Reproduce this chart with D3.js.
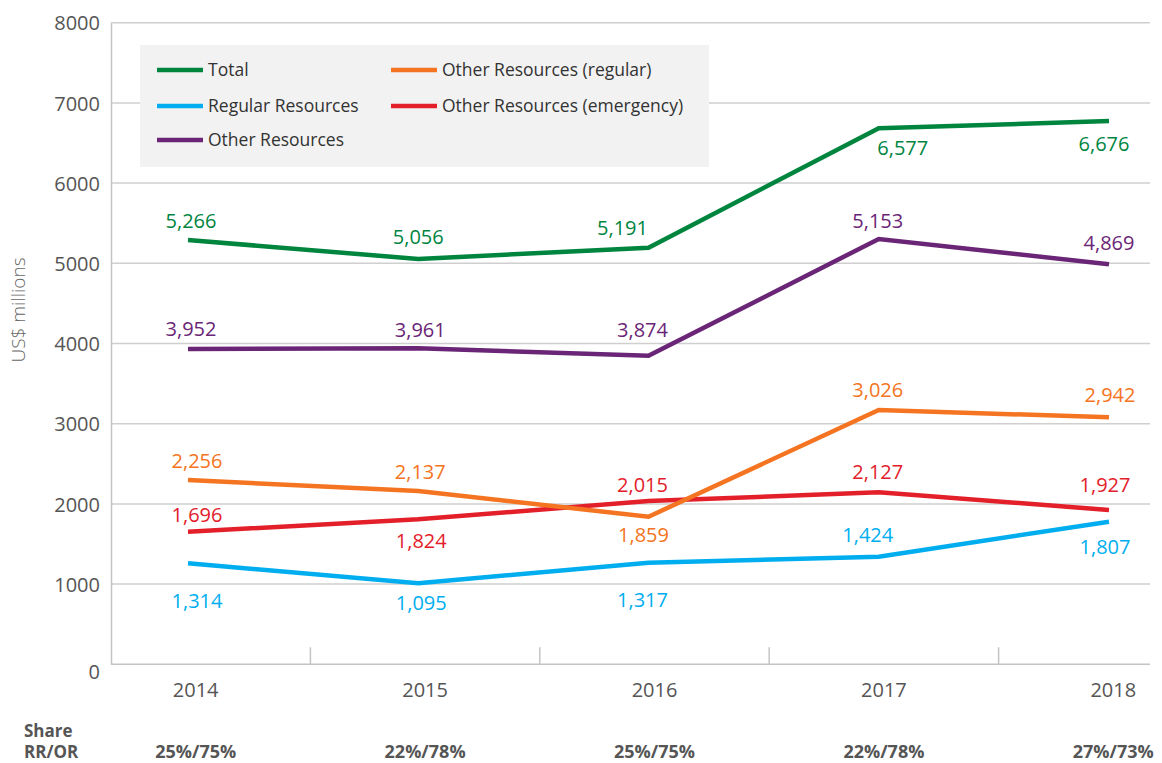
<!DOCTYPE html>
<html>
<head>
<meta charset="utf-8">
<script src="https://cdn.jsdelivr.net/npm/d3@7"></script>
<style>
  body { margin: 0; background: #fff; }
  text { font-family: "Open Sans", "Liberation Sans", sans-serif; }
</style>
</head>
<body>
<div id="chart"></div>
<script>
// data
var years = ["2014", "2015", "2016", "2017", "2018"];
var total = [5290, 5054, 5195, 6683, 6774];
var regularRes = [1259, 1010, 1267, 1342, 1778];
var otherRes = [3931, 3940, 3848, 5303, 4988];
var otherRegular = [2298, 2161, 1840, 3171, 3080];
var otherEmergency = [1653, 1808, 2036, 2145, 1924];

var totalLabels = ["5,266", "5,056", "5,191", "6,577", "6,676"];
var regularLabels = ["1,314", "1,095", "1,317", "1,424", "1,807"];
var otherLabels = ["3,952", "3,961", "3,874", "5,153", "4,869"];
var otherRegularLabels = ["2,256", "2,137", "1,859", "3,026", "2,942"];
var otherEmergencyLabels = ["1,696", "1,824", "2,015", "2,127", "1,927"];

var shareLabels = ["25%/75%", "22%/78%", "25%/75%", "22%/78%", "27%/73%"];
var yTicks = [0, 1000, 2000, 3000, 4000, 5000, 6000, 7000, 8000];

var svgWidth = 1162;
var svgHeight = 763;

var svg = d3.select("#chart")
    .append("svg")
    .attr("width", svgWidth)
    .attr("height", svgHeight);

// scales
var yScale = d3.scaleLinear()
    .domain([0, 8000])
    .range([664.3, 22.7]);

// lines are drawn on points, labels/ticks sit on bands
var xPoint = d3.scalePoint()
    .domain(years)
    .range([188, 1109]);

var xBand = d3.scaleBand()
    .domain(years)
    .range([81, 1228])
    .padding(0);

var left = 111, right = 1150;

// gridlines
svg.append("g")
    .selectAll("line")
    .data(yTicks.filter(d => d > 0))
    .enter()
    .append("line")
    .attr("x1", left)
    .attr("x2", right)
    .attr("y1", d => yScale(d))
    .attr("y2", d => yScale(d))
    .attr("stroke", "#cfcfcf")
    .attr("stroke-width", 1.5);

// y axis
var leftAxis = d3.axisLeft(yScale)
    .tickValues(yTicks)
    .tickFormat(d3.format("d"))
    .tickSize(0)
    .tickPadding(11);
var yAxisG = svg.append("g")
    .attr("transform", `translate(${left}, 0)`)
    .call(leftAxis);
yAxisG.select(".domain").attr("stroke", "#c4c4c4").attr("stroke-width", 1.5);
yAxisG.selectAll("text")
    .attr("fill", "#555")
    .style("font-size", "20px")
    .attr("dy", d => d === 0 ? "0.72em" : "0.36em");

// x axis line and separators
svg.append("line")
    .attr("x1", left).attr("x2", right)
    .attr("y1", yScale(0)).attr("y2", yScale(0))
    .attr("stroke", "#c4c4c4").attr("stroke-width", 1.5);

svg.append("g")
    .selectAll("line")
    .data(years.slice(1))
    .enter()
    .append("line")
    .attr("x1", d => xBand(d))
    .attr("x2", d => xBand(d))
    .attr("y1", yScale(0))
    .attr("y2", yScale(0) - 17)
    .attr("stroke", "#c4c4c4")
    .attr("stroke-width", 1.5);

svg.append("g")
    .selectAll("text")
    .data(years)
    .enter()
    .append("text")
    .attr("x", d => xBand(d) + xBand.bandwidth() / 2)
    .attr("y", 697)
    .attr("text-anchor", "middle")
    .attr("fill", "#555")
    .style("font-size", "20px")
    .text(d => d);

// y title
svg.append("text")
    .attr("transform", "translate(25, 310) rotate(-90)")
    .attr("text-anchor", "middle")
    .attr("fill", "#666")
    .style("font-size", "19px")
    .style("font-weight", 300)
    .text("US$ millions");

// share row
svg.append("text").attr("x", 24).attr("y", 737).attr("fill", "#555")
    .style("font-size", "17px").style("font-weight", "bold").text("Share");
svg.append("text").attr("x", 24).attr("y", 758).attr("fill", "#555")
    .style("font-size", "17px").style("font-weight", "bold").text("RR/OR");

svg.append("g")
    .selectAll("text")
    .data(years)
    .enter()
    .append("text")
    .attr("x", (d, i) => xBand(d) + xBand.bandwidth() / 2)
    .attr("y", 758)
    .attr("text-anchor", "middle")
    .attr("fill", "#555")
    .style("font-size", "18px")
    .style("font-weight", "bold")
    .text((d, i) => shareLabels[i]);

// legend box
svg.append("rect")
    .attr("x", 140).attr("y", 45)
    .attr("width", 569).attr("height", 122)
    .attr("fill", "#f2f2f2");

var series = [
    {name: "Total", values: total, labels: totalLabels, color: "#00853f",
     off: [[3, -19], [0, -22], [-26, -20], [24, 20], [-5, 23]], lx: 157, ly: 70},
    {name: "Regular Resources", values: regularRes, labels: regularLabels, color: "#00aeef",
     off: [[9, 38], [3, 20], [-6, 37], [-11, -22], [-4, 25]], lx: 157, ly: 106},
    {name: "Other Resources", values: otherRes, labels: otherLabels, color: "#6a2576",
     off: [[3, -20], [2, -18], [-6, -26], [-1, -18], [0, -21]], lx: 157, ly: 140},
    {name: "Other Resources (regular)", values: otherRegular, labels: otherRegularLabels, color: "#f47421",
     off: [[9, -19], [2, -19], [-5, 18], [-1, -20], [1, -22]], lx: 391, ly: 70},
    {name: "Other Resources (emergency)", values: otherEmergency, labels: otherEmergencyLabels, color: "#e3202a",
     off: [[9, -17], [3, 22], [-6, -16], [-1, -20], [-4, -25]], lx: 391, ly: 106}
];

var legend = svg.append("g");
series.forEach(s => {
    legend.append("line")
        .attr("x1", s.lx).attr("x2", s.lx + 46)
        .attr("y1", s.ly).attr("y2", s.ly)
        .attr("stroke", s.color).attr("stroke-width", 4.5);
    legend.append("text")
        .attr("x", s.lx + 51).attr("y", s.ly)
        .attr("dy", "0.35em")
        .attr("fill", "#333")
        .style("font-size", "17.5px")
        .text(s.name);
});

var line = d3.line()
    .x((d, i) => xPoint(years[i]))
    .y(d => yScale(d));

// draw order: bottom lines first
[1, 4, 3, 2, 0].forEach(k => {
    var s = series[k];
    svg.append("path")
        .datum(s.values)
        .attr("d", line)
        .attr("fill", "none")
        .attr("stroke", s.color)
        .attr("stroke-width", 4.5)
        .attr("stroke-linejoin", "miter");
});

series.forEach(s => {
    svg.append("g")
        .selectAll("text")
        .data(s.values)
        .enter()
        .append("text")
        .attr("x", (d, i) => xPoint(years[i]) + s.off[i][0])
        .attr("y", (d, i) => yScale(d) + s.off[i][1])
        .attr("dy", "0.35em")
        .attr("text-anchor", "middle")
        .attr("fill", s.color)
        .style("font-size", "20px")
        .text((d, i) => s.labels[i]);
});
</script>
</body>
</html>
